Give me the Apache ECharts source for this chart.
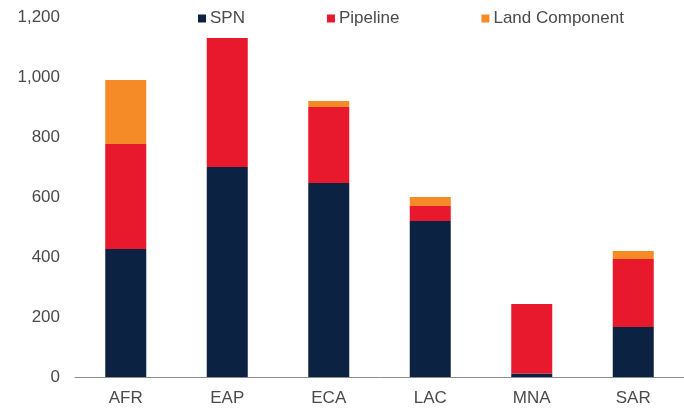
<!DOCTYPE html>
<html>
<head>
<meta charset="utf-8">
<script src="https://cdn.jsdelivr.net/npm/echarts@6/dist/echarts.min.js"></script>
<style>html,body{margin:0;padding:0;background:#fff;}#c{width:684px;height:410px;}</style>
</head>
<body>
<div id="c"></div>
<script>
var categories = ['AFR', 'EAP', 'ECA', 'LAC', 'MNA', 'SAR'];
var spn = [427, 700, 647, 520, 12, 167];
var pipeline = [350, 430, 253, 50, 231, 226];
var land = [213, 0, 20, 30, 0, 27];
var yTicks = { min: 0, max: 1200, interval: 200 };

var font = "'Liberation Sans', Arial, sans-serif";
var chart = echarts.init(document.getElementById('c'));
chart.setOption({
  animation: false,
  backgroundColor: '#ffffff',
  legend: {
    left: 193, top: 5,
    itemWidth: 8, itemHeight: 8, itemGap: 82,
    icon: 'rect',
    textStyle: { fontFamily: font, fontSize: 17, color: '#4a4a4a', padding: [2, 0, 0, -1] },
    data: ['SPN', 'Pipeline', 'Land Component']
  },
  grid: { left: 75, right: -9, top: 17, bottom: 33 },
  xAxis: {
    type: 'category',
    data: categories,
    axisLine: { lineStyle: { color: '#8c8c8c', width: 1 } },
    axisTick: { show: false },
    axisLabel: { fontFamily: font, fontSize: 17, color: '#4a4a4a', margin: 13 }
  },
  yAxis: {
    type: 'value',
    min: yTicks.min, max: yTicks.max, interval: yTicks.interval,
    splitLine: { show: false },
    axisLine: { show: false },
    axisTick: { show: false },
    axisLabel: {
      fontFamily: font, fontSize: 17, color: '#4a4a4a', margin: 15,
      formatter: function (v) { return v.toLocaleString('en-US'); }
    }
  },
  series: [
    { name: 'SPN', type: 'bar', stack: 't', data: spn, barWidth: 41, itemStyle: { color: '#0b2242' } },
    { name: 'Pipeline', type: 'bar', stack: 't', data: pipeline, itemStyle: { color: '#e8192c' } },
    { name: 'Land Component', type: 'bar', stack: 't', data: land, itemStyle: { color: '#f58b27' } }
  ]
});
</script>
</body>
</html>
